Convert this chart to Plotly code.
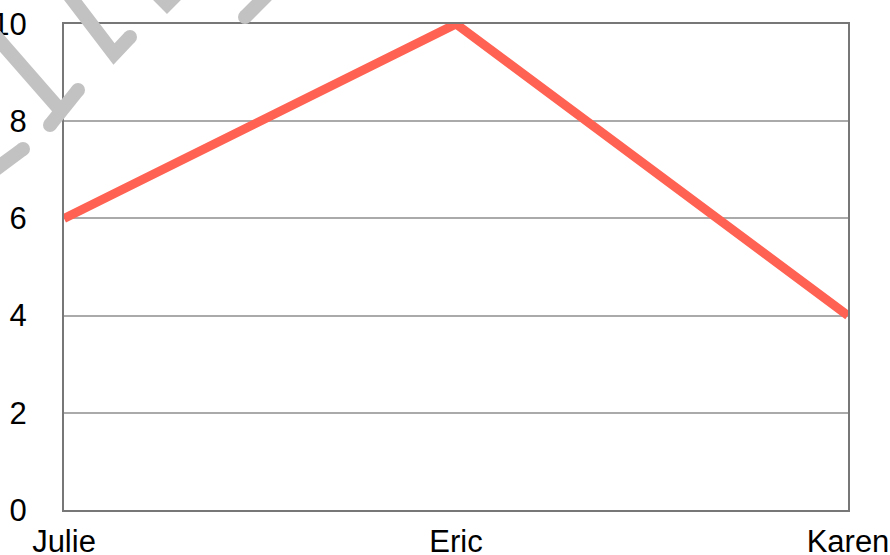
import plotly.graph_objects as go

names = ["Julie", "Eric", "Karen"]
values = [6, 10, 4]
y_ticks = [0, 2, 4, 6, 8, 10]

W, H = 890, 555
L, R, T, B = 64, 42, 24, 45
PW, PH = W - L - R, H - T - B

def px(x, y):
    return (x - L) / PW, (H - B - y) / PH

fig = go.Figure()
fig.add_trace(go.Scatter(
    x=names, y=values, mode="lines",
    line=dict(color="#FF6252", width=9),
    hoverinfo="skip", showlegend=False, cliponaxis=False,
))

# watermark strokes (decorative), polylines in pixel coordinates
strokes = [
    [(-36, 0), (61, 111)],
    [(50, 125), (78, 90)],
    [(50, -30), (114, 54), (130, 37)],
    [(107, -56), (167, 4), (190, -19)],
    [(245, 17), (278, -16)],
    [(-12, 175), (23, 149)],
]
caps = [(50, 125), (78, 90), (130, 37), (245, 17), (23, 149)]
grey = "#C2C2C2"
sw = 14
shapes = []
for pts in strokes:
    p = [px(x, y) for x, y in pts]
    path = "M " + " L ".join(f"{a:.5f},{b:.5f}" for a, b in p)
    shapes.append(dict(type="path", xref="paper", yref="paper", path=path,
                       line=dict(color=grey, width=sw), layer="above"))
r = sw / 2
for cx, cy in caps:
    a = px(cx - r, cy + r); b = px(cx + r, cy - r)
    shapes.append(dict(type="circle", xref="paper", yref="paper",
                       x0=a[0], y0=a[1], x1=b[0], y1=b[1],
                       fillcolor=grey, line=dict(width=0), layer="above"))

fig.update_layout(
    width=W, height=H,
    margin=dict(l=L, r=R, t=T, b=B, pad=0, autoexpand=False),
    paper_bgcolor="white", plot_bgcolor="white",
    font=dict(family="Liberation Sans, Arial, sans-serif", size=31, color="black"),
    showlegend=False,
    shapes=shapes,
    xaxis=dict(
        type="category", range=[0, 2], showgrid=False, zeroline=False,
        showline=True, linecolor="#777777", linewidth=2, mirror=True,
        ticks="", ticklabelstandoff=3, fixedrange=True, automargin=False,
    ),
    yaxis=dict(
        range=[0, 10], tickvals=y_ticks, ticktext=[str(v) for v in y_ticks],
        showgrid=True, gridcolor="#AAAAAA", gridwidth=1.5, zeroline=False,
        showline=True, linecolor="#777777", linewidth=2, mirror=True,
        ticks="", ticklabelstandoff=29, fixedrange=True, automargin=False,
    ),
)

fig.write_html(
    "out.html",
    config={"displayModeBar": False},
    post_script="document.body.style.margin='0';document.body.style.overflow='hidden';",
)
